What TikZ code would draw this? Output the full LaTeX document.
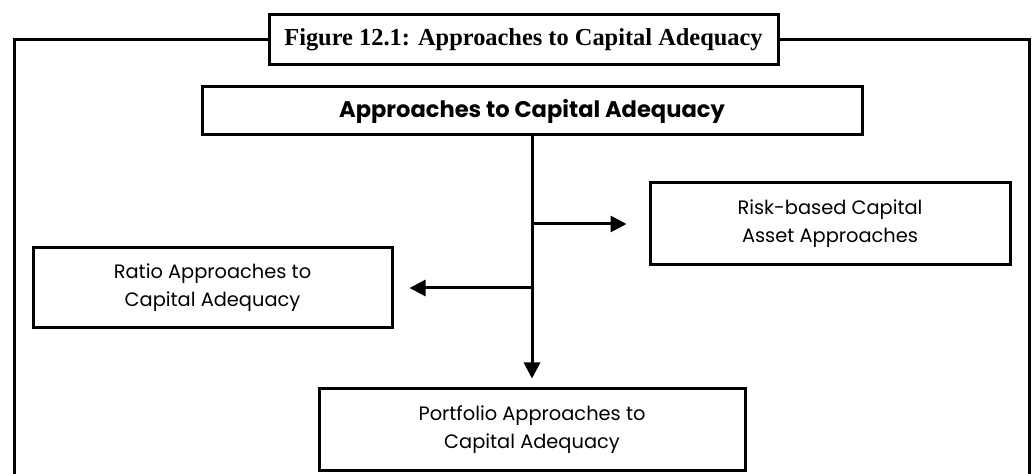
\documentclass[tikz,border=0pt]{standalone}
\usepackage{fontspec}
\usetikzlibrary{arrows.meta}
\newfontfamily\capfont{Liberation Serif}
\newfontfamily\boxfont{Poppins}

\begin{document}
\begin{tikzpicture}[x=0.5pt,y=-0.5pt,
    box/.style={draw,line width=1.5pt,align=center,inner sep=0pt},
    lbl/.style={font=\boxfont\fontsize{9.7}{14}\selectfont},
    conn/.style={line width=1.5pt,-{Triangle[length=8pt,width=8pt]}}]
      \useasboundingbox (0,0) rectangle (1033,474);
      % frame and caption
      \node[box,minimum width=254.5pt,minimum height=25pt,font=\capfont\bfseries\fontsize{12.2}{14}\selectfont]
        (caption) at (523.5,40) {Figure 12.1: Approaches to Capital Adequacy};
      \draw[line width=1.5pt] (caption.west) -- (14,40) -- (14,480);
      \draw[line width=1.5pt] (caption.east) -- (1029,40) -- (1029,480);
      % boxes
      \node[box,minimum width=330pt,minimum height=24pt,font=\boxfont\bfseries\fontsize{11.3}{14}\selectfont]
        (top) at (532,111) {Approaches to Capital Adequacy};
      \node[box,lbl,minimum width=180pt,minimum height=41pt]
        (risk) at (830,224) {Risk-based Capital\\Asset Approaches};
      \node[box,lbl,minimum width=179.5pt,minimum height=40pt]
        (ratio) at (212.5,288) {Ratio Approaches to\\Capital Adequacy};
      \node[box,lbl,minimum width=213pt,minimum height=41pt]
        (portfolio) at (532,430) {Portfolio Approaches to\\Capital Adequacy};
      % connectors
      \draw[conn,shorten >=4.5pt] (top.south) -- (portfolio.north);
      \draw[conn,shorten >=11pt] (top.south |- risk.west) -- (risk.west);
      \draw[conn,shorten >=8pt] (top.south |- ratio.east) -- (ratio.east);
    \end{tikzpicture}
\end{document}
